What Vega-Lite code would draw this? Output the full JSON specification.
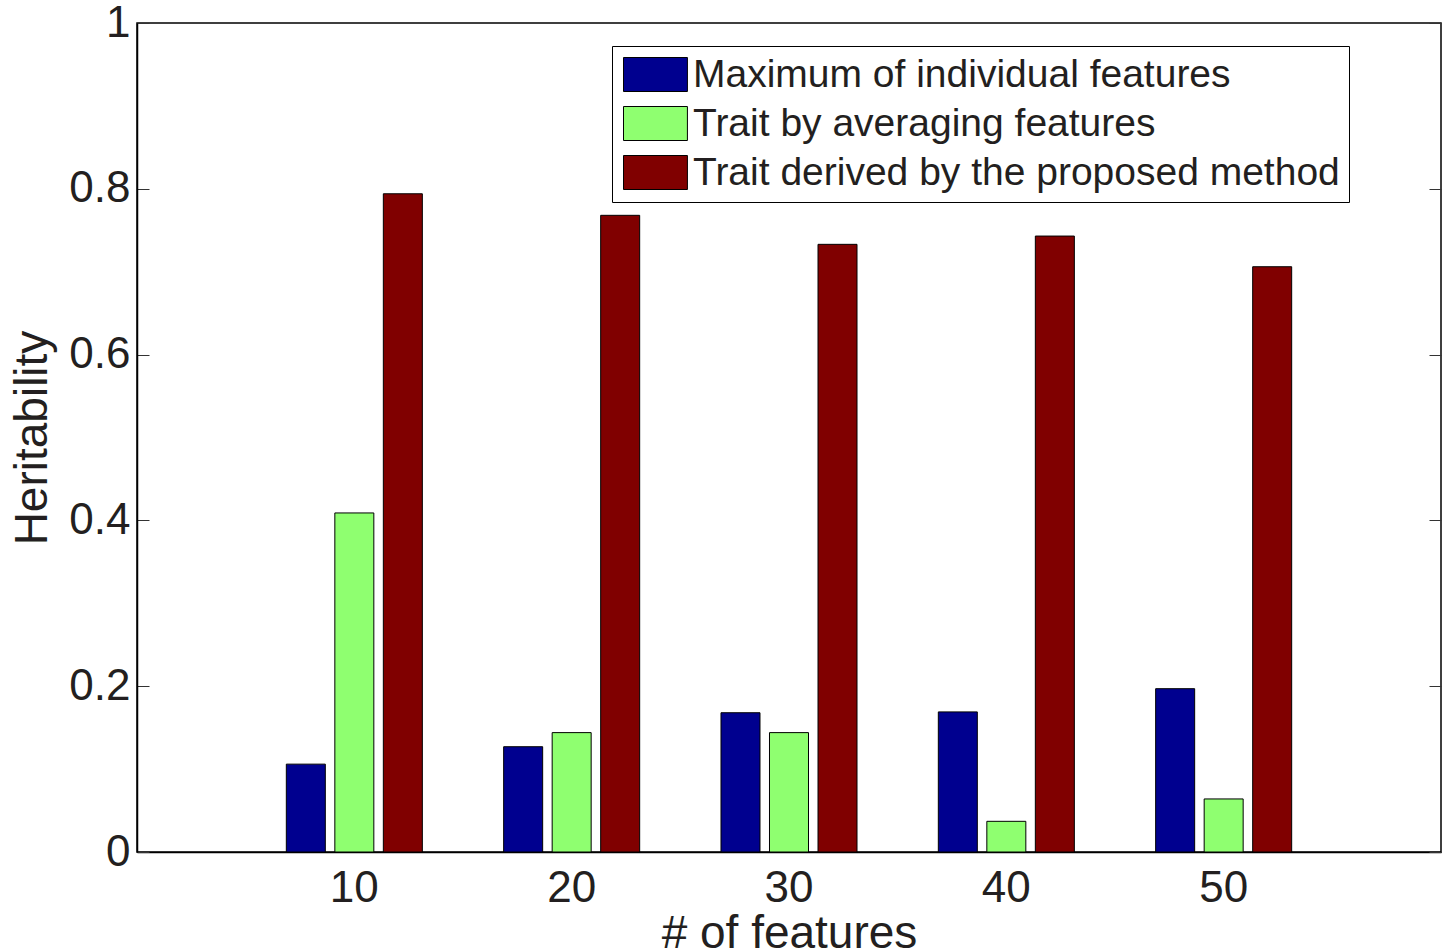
{
  "$schema": "https://vega.github.io/schema/vega-lite/v6.json",
  "width": 1304,
  "height": 829,
  "autosize": {"type": "none"},
  "padding": {"left": 137, "top": 23, "right": 7, "bottom": 99},
  "background": "white",
  "config": {
    "view": {"stroke": "black", "strokeWidth": 1.5},
    "font": "Liberation Sans",
    "axis": {"labelFont": "Liberation Sans", "titleFont": "Liberation Sans", "labelColor": "#231f20", "titleColor": "#231f20", "titleFontWeight": "normal", "grid": false, "domainColor": "black", "domainWidth": 1.5, "tickColor": "#333"}
  },
  "data": {
    "values": [
      {"features": 10, "series": "Maximum of individual features", "h": 0.106},
      {"features": 10, "series": "Trait by averaging features", "h": 0.409},
      {"features": 10, "series": "Trait derived by the proposed method", "h": 0.794},
      {"features": 20, "series": "Maximum of individual features", "h": 0.127},
      {"features": 20, "series": "Trait by averaging features", "h": 0.144},
      {"features": 20, "series": "Trait derived by the proposed method", "h": 0.768},
      {"features": 30, "series": "Maximum of individual features", "h": 0.168},
      {"features": 30, "series": "Trait by averaging features", "h": 0.144},
      {"features": 30, "series": "Trait derived by the proposed method", "h": 0.733},
      {"features": 40, "series": "Maximum of individual features", "h": 0.169},
      {"features": 40, "series": "Trait by averaging features", "h": 0.037},
      {"features": 40, "series": "Trait derived by the proposed method", "h": 0.743},
      {"features": 50, "series": "Maximum of individual features", "h": 0.197},
      {"features": 50, "series": "Trait by averaging features", "h": 0.064},
      {"features": 50, "series": "Trait derived by the proposed method", "h": 0.706}
    ]
  },
  "layer": [
    {
      "mark": {"type": "bar", "stroke": "black", "strokeWidth": 1, "opacity": 1},
      "encoding": {
        "x": {"field": "features", "type": "ordinal", "scale": {"paddingInner": 0, "paddingOuter": 0.5},
          "axis": {"title": "# of features", "labelAngle": 0, "labelFontSize": 44, "titleFontSize": 46, "ticks": false, "labelPadding": 14, "titlePadding": 1}},
        "xOffset": {"field": "series", "type": "nominal", "sort": ["Maximum of individual features", "Trait by averaging features", "Trait derived by the proposed method"], "scale": {"paddingInner": 0.196, "paddingOuter": 0.838}},
        "y": {"field": "h", "type": "quantitative", "scale": {"domain": [0, 1], "nice": false},
          "axis": {"title": "Heritability", "values": [0, 0.2, 0.4, 0.6, 0.8, 1], "format": "~g", "labelFontSize": 44, "titleFontSize": 46, "tickSize": -12, "labelPadding": 19, "titlePadding": 12}},
        "color": {"field": "series", "type": "nominal", "sort": ["Maximum of individual features", "Trait by averaging features", "Trait derived by the proposed method"],
          "scale": {"domain": ["Maximum of individual features", "Trait by averaging features", "Trait derived by the proposed method"], "range": ["#00008f", "#8fff70", "#800000"]},
          "legend": {"orient": "none", "legendX": 475, "legendY": 23, "title": null, "symbolType": "M-1,-1H2.76V1H-1Z", "symbolSize": 1156, "symbolStrokeColor": "black", "symbolStrokeWidth": 1, "symbolOpacity": 1, "labelFontSize": 39, "labelFont": "Liberation Sans", "labelColor": "#231f20", "labelOffset": 33, "rowPadding": 9, "padding": 9, "strokeColor": "black", "fillColor": "white", "labelLimit": 0}}
      }
    },
    {
      "mark": {"type": "bar", "opacity": 0},
      "encoding": {
        "x": {"field": "features", "type": "ordinal"},
        "xOffset": {"field": "series", "type": "nominal", "sort": ["Maximum of individual features", "Trait by averaging features", "Trait derived by the proposed method"]},
        "y": {"field": "h", "type": "quantitative",
          "axis": {"orient": "right", "title": null, "values": [0, 0.2, 0.4, 0.6, 0.8, 1], "labels": false, "domain": false, "tickSize": -12}}
      }
    }
  ],
  "resolve": {"axis": {"y": "independent"}}
}
